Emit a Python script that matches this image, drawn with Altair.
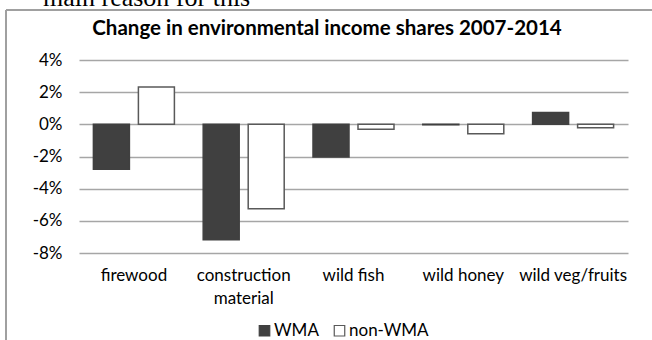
import altair as alt
import pandas as pd

categories = ["firewood", "construction material", "wild fish", "wild honey", "wild veg/fruits"]
series = ["WMA", "non-WMA"]
wma = [-0.028, -0.0718, -0.0203, -0.0003, 0.0073]
non_wma = [0.0232, -0.0525, -0.0030, -0.0058, -0.0022]
y_ticks = [-0.08, -0.06, -0.04, -0.02, 0.0, 0.02, 0.04]
title_text = "Change in environmental income shares 2007-2014"
above_text = "main reason for this"

rows = []
for c, a, b in zip(categories, wma, non_wma):
    rows.append({"category": c, "series": "WMA", "value": a})
    rows.append({"category": c, "series": "non-WMA", "value": b})
df = pd.DataFrame(rows)

FONT = "Lato"
PL, PT = 79, 60
W, H = 549, 193

bars = alt.Chart(df).mark_bar(strokeWidth=1.5).encode(
    x=alt.X("category:N", sort=categories, title=None,
            scale=alt.Scale(paddingInner=0, paddingOuter=0),
            axis=alt.Axis(domain=False, ticks=False, labelAngle=0, labelFont=FONT,
                          labelFontSize=17, labelColor="#000000", labelPadding=14,
                          labelLineHeight=23, labelBaseline="top",
                          labelExpr="datum.label == 'construction material' ? ['construction', 'material'] : datum.label")),
    xOffset=alt.XOffset("series:N", sort=series,
                        scale=alt.Scale(paddingInner=0.2, paddingOuter=0.32)),
    y=alt.Y("value:Q", title=None,
            scale=alt.Scale(domain=[-0.08, 0.04], nice=False, zero=False),
            axis=alt.Axis(values=y_ticks, domain=False, ticks=False,
                          labelExpr="(datum.value < -0.0001 ? '-' : '') + format(abs(datum.value), '.0%')",
                          labelFont=FONT, labelFontSize=17, labelColor="#000000",
                          labelPadding=17, gridColor="#a6a6a6", gridWidth=1.4)),
    fill=alt.Fill("series:N", sort=series,
                  scale=alt.Scale(domain=series, range=["#404040", "#ffffff"]),
                  legend=alt.Legend(title=None, orient="none", direction="horizontal",
                                    legendX=177, legendY=262, symbolType="square",
                                    symbolSize=110, symbolStrokeColor="#505050",
                                    symbolStrokeWidth=1.2, labelFont=FONT,
                                    labelFontSize=17, labelColor="#000000",
                                    columnPadding=12, labelOffset=1)),
    stroke=alt.Stroke("series:N", sort=series,
                      scale=alt.Scale(domain=series, range=["#404040", "#595959"]),
                      legend=None),
)

title = alt.Chart(pd.DataFrame({"t": [title_text]})).mark_text(
    font=FONT, fontSize=20.5, fontWeight="bold", color="#000000",
    align="center", baseline="middle"
).encode(text="t:N", x=alt.value(327 - PL), y=alt.value(29 - PT))

above = alt.Chart(pd.DataFrame({"t": [above_text]})).mark_text(
    font="Liberation Serif", fontSize=26, color="#000000",
    align="left", baseline="alphabetic"
).encode(text="t:N", x=alt.value(43 - PL), y=alt.value(6 - PT))

frame_left = alt.Chart(pd.DataFrame({"t": [0]})).mark_rule(
    color="#a0a0a0", strokeWidth=2
).encode(x=alt.value(6 - PL), y=alt.value(10 - PT), y2=alt.value(340 - PT))

frame_top = alt.Chart(pd.DataFrame({"t": [0]})).mark_rule(
    color="#a0a0a0", strokeWidth=2
).encode(x=alt.value(6 - PL), x2=alt.value(652 - PL), y=alt.value(10 - PT))

chart = alt.layer(bars, title, above, frame_left, frame_top).properties(
    width=W, height=H,
    autosize=alt.AutoSizeParams(type="none"),
    padding={"left": PL, "top": PT, "right": 652 - PL - W, "bottom": 340 - PT - H},
    background="#ffffff",
).configure_view(stroke=None)

chart.save("out.html", embed_options={"renderer": "svg", "actions": False})
